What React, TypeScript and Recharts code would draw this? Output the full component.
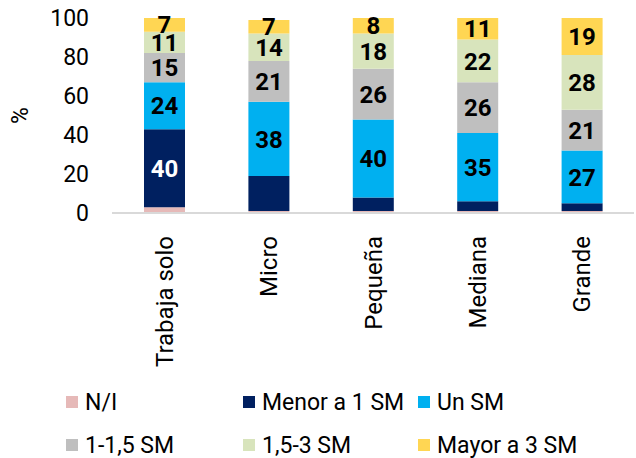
import { BarChart, Bar, XAxis, YAxis, LabelList } from "recharts"

const categories = ["Trabaja solo", "Micro", "Pequeña", "Mediana", "Grande"]
const noInfo = [3, 1, 1, 1, 1]
const menor1 = [40, 18, 7, 5, 4]
const unSM = [24, 38, 40, 35, 27]
const entre1y15 = [15, 21, 26, 26, 21]
const entre15y3 = [11, 14, 18, 22, 28]
const mayor3 = [7, 7, 8, 11, 19]
const yTicks = [0, 20, 40, 60, 80, 100]

const SERIES = [
  { key: "ni", name: "N/I", values: noInfo, color: "#E6B9B8" },
  { key: "menor", name: "Menor a 1 SM", values: menor1, color: "#002060" },
  { key: "un", name: "Un SM", values: unSM, color: "#00B0F0" },
  { key: "a15", name: "1-1,5 SM", values: entre1y15, color: "#BFBFBF" },
  { key: "a3", name: "1,5-3 SM", values: entre15y3, color: "#D8E4BC" },
  { key: "mayor", name: "Mayor a 3 SM", values: mayor3, color: "#FFD653" },
]

const data = categories.map((cat, i) => {
  const row: Record<string, string | number> = { cat }
  SERIES.forEach((s) => (row[s.key] = s.values[i]))
  return row
})

const FONT = "Roboto, 'Noto Sans', sans-serif"

const renderLabel = (seriesKey: string) => (props: any) => {
  const { x, y, width, height, value } = props
  if (seriesKey === "ni") return null
  if (seriesKey === "menor" && value < 20) return null
  return (
    <text
      x={x + width / 2}
      y={y + height / 2}
      dy="0.36em"
      textAnchor="middle"
      fontFamily={FONT}
      fontWeight="bold"
      fontSize={24}
      fill={seriesKey === "menor" ? "#fff" : "#000"}
    >
      {value}
    </text>
  )
}

const XTick = (props: any) => {
  const { x, y, payload } = props
  return (
    <text
      transform={`translate(${x},${y + 15}) rotate(-90)`}
      textAnchor="end"
      dy="0.36em"
      fontFamily={FONT}
      fontSize={24}
      fill="#000"
    >
      {payload.value}
    </text>
  )
}

const LegendBox = () => (
  <div
    style={{
      position: "absolute",
      left: 0,
      top: 390,
      width: 636,
      display: "grid",
      gridTemplateColumns: "177px 175px 176px",
      rowGap: 19,
      paddingLeft: 66,
      boxSizing: "border-box",
      fontFamily: FONT,
      fontSize: 23,
      color: "#000",
    }}
  >
    {SERIES.map((s) => (
      <div key={s.key} style={{ display: "flex", alignItems: "center", height: 24, whiteSpace: "nowrap" }}>
        <span style={{ width: 12, height: 12, background: s.color, marginRight: 7, display: "inline-block", flexShrink: 0 }} />
        <span>{s.name}</span>
      </div>
    ))}
  </div>
)

export default function App() {
  return (
    <div style={{ position: "absolute", left: 0, top: 0, width: 636, height: 458 }}>
      <BarChart
        width={636}
        height={458}
        data={data}
        margin={{ top: 18, right: 2, left: 0, bottom: 100 }}
        barSize={41}
      >
        <XAxis
          dataKey="cat"
          height={145}
          tickLine={false}
          axisLine={{ stroke: "#D9D9D9", strokeWidth: 2 }}
          tick={<XTick />}
          interval={0}
        />
        <YAxis
          width={112}
          domain={[0, 100]}
          ticks={yTicks}
          interval={0}
          axisLine={false}
          tickLine={false}
          tickMargin={17}
          tick={{ fontFamily: FONT, fontSize: 23, fill: "#000" }}
          label={{
            value: "%",
            angle: -90,
            position: "insideLeft",
            offset: 20,
            style: { fontFamily: FONT, fontSize: 23, fill: "#000", textAnchor: "middle" },
          }}
        />
        {SERIES.map((s) => (
          <Bar key={s.key} dataKey={s.key} name={s.name} stackId="a" fill={s.color} isAnimationActive={false}>
            <LabelList dataKey={s.key} content={renderLabel(s.key)} />
          </Bar>
        ))}
      </BarChart>
      <LegendBox />
    </div>
  )
}
